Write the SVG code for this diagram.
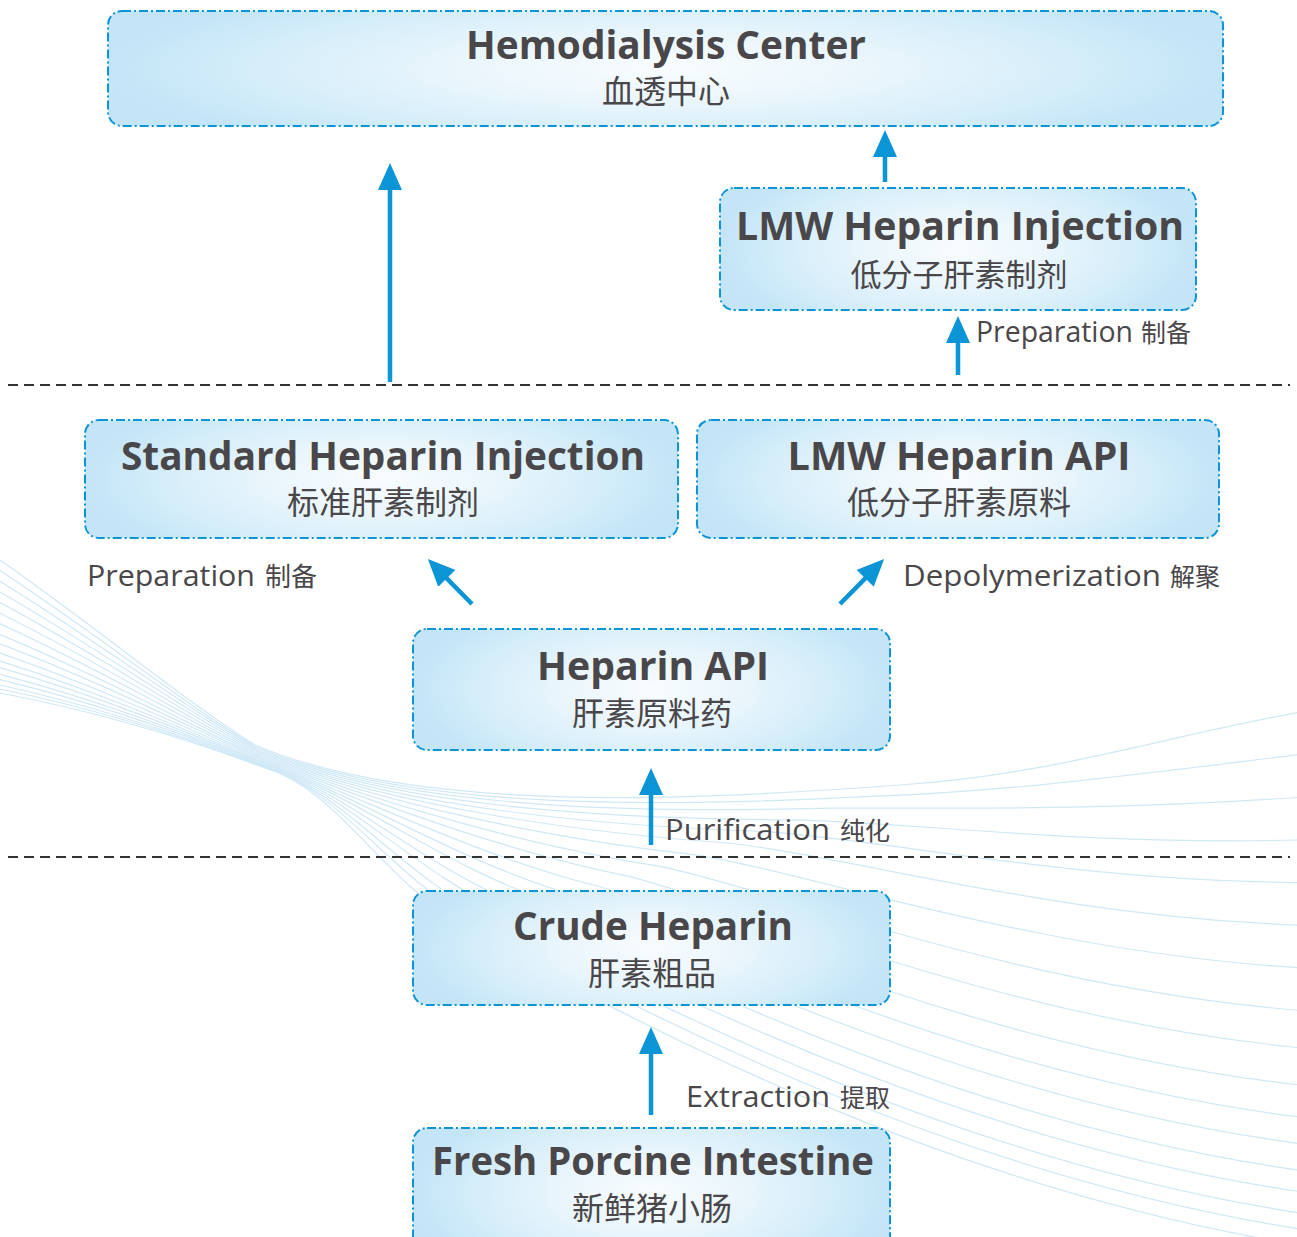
<svg xmlns="http://www.w3.org/2000/svg" width="1297" height="1237" viewBox="0 0 1297 1237">
<defs>
<style>
.box{fill:url(#bg);stroke:#0b95d6;stroke-width:2;stroke-dasharray:9 3 2 3}
.t{font-family:"Open Sans","Noto Sans CJK SC",sans-serif;font-weight:700;font-size:39px;fill:#4a474a;text-anchor:middle}
.c{font-family:"Noto Sans CJK SC",sans-serif;font-size:32px;fill:#4a474a;text-anchor:middle}
.l{font-family:"Open Sans","Noto Sans CJK SC",sans-serif;font-size:29px;fill:#4a474a}
.lc{font-family:"Noto Sans CJK SC",sans-serif;font-size:25px;fill:#4a474a}
.arr{fill:none;stroke:#0b95d6;stroke-width:4.5;marker-end:url(#ah)}
.dash{fill:none;stroke:#333;stroke-width:2;stroke-dasharray:10 6}
.wave{fill:none;stroke:#cfe8f6;stroke-width:1.2}
</style>
<radialGradient id="bg" cx="0.5" cy="0.5" r="0.5" gradientTransform="translate(0.5 0.5) scale(1 1.6) translate(-0.5 -0.5)">
<stop offset="0" stop-color="#f8fcfe"/>
<stop offset="0.35" stop-color="#ebf6fc"/>
<stop offset="0.75" stop-color="#d4edf9"/>
<stop offset="1" stop-color="#c3e5f7"/>
</radialGradient>
<marker id="ah" viewBox="0 0 27 24" refX="12" refY="12" markerWidth="27" markerHeight="24" markerUnits="userSpaceOnUse" orient="auto">
<path d="M0,0 L27,12 L0,24 z" fill="#0b95d6"/>
</marker>
</defs>
<rect width="1297" height="1237" fill="#fff"/>
<g id="background-waves">
<path class="wave" d="M0,560 C100,630 190,705 255,745 C420,815 700,800 900,785 C1050,775 1150,740 1300,712"/>
<path class="wave" d="M0,570.6 C100,636.6 190,707.8 255.8,746.8 C413.6,813 674.4,806.4 865.6,796.6 C1010.8,791.4 1130,775.2 1300,754.6"/>
<path class="wave" d="M0,581.3 C100,643.1 190,710.6 256.6,748.7 C407.2,811 648.8,812.8 831.2,808.2 C971.6,807.8 1110,810.4 1300,797.3"/>
<path class="wave" d="M0,591.9 C100,649.7 190,713.4 257.4,750.5 C400.8,809 623.2,819.2 796.8,819.8 C932.4,824.2 1090,845.6 1300,839.9"/>
<path class="wave" d="M0,602.6 C100,656.2 190,716.2 258.2,752.4 C394.4,807 597.6,825.6 762.4,831.4 C893.2,840.6 1070,880.8 1300,882.6"/>
<path class="wave" d="M0,613.2 C100,662.8 190,719 259,754.2 C388,805 572,832 728,843 C854,857 1050,916 1300,925.2"/>
<path class="wave" d="M0,623.8 C100,669.4 190,721.8 259.8,756 C381.6,803 546.4,838.4 693.6,854.6 C814.8,873.4 1030,951.2 1300,967.8"/>
<path class="wave" d="M0,634.5 C100,675.9 190,724.6 260.6,757.9 C375.2,801 520.8,844.8 659.2,866.2 C775.6,889.8 1010,986.4 1300,1010.5"/>
<path class="wave" d="M0,643.8 C100,681.7 190,727.1 261.3,759.5 C369.6,799.3 498.4,850.4 629.1,876.4 C741.3,904.2 992.5,1017.2 1300,1047.8"/>
<path class="wave" d="M0,653.1 C100,687.4 190,729.5 262,761.1 C364,797.5 476,856 599,886.5 C707,918.5 975,1048 1300,1085.1"/>
<path class="wave" d="M0,661.1 C100,692.3 190,731.6 262.6,762.5 C359.2,796 456.8,860.8 573.2,895.2 C677.6,930.8 960,1074.4 1300,1117.1"/>
<path class="wave" d="M0,667.7 C100,696.4 190,733.4 263.1,763.6 C355.2,794.8 440.8,864.8 551.7,902.5 C653.1,941.1 947.5,1096.4 1300,1143.7"/>
<path class="wave" d="M0,674.4 C100,700.5 190,735.1 263.6,764.8 C351.2,793.5 424.8,868.8 530.2,909.7 C628.6,951.3 935,1118.4 1300,1170.4"/>
<path class="wave" d="M0,679.7 C100,703.8 190,736.5 264,765.7 C348,792.5 412,872 513,915.5 C609,959.5 925,1136 1300,1191.7"/>
<path class="wave" d="M0,685 C100,707.1 190,737.9 264.4,766.6 C344.8,791.5 399.2,875.2 495.8,921.3 C589.4,967.7 915,1153.6 1300,1213"/>
<path class="wave" d="M0,689 C100,709.5 190,739 264.7,767.3 C342.4,790.8 389.6,877.6 482.9,925.7 C574.7,973.9 907.5,1166.8 1300,1229"/>
<path class="wave" d="M0,693 C100,712 190,740 265,768 C340,790 380,880 470,930 C560,980 900,1180 1300,1245"/>
</g>
<g id="separators">
<line class="dash" x1="8" y1="385" x2="1290" y2="385"/>
<line class="dash" x1="8" y1="857" x2="1290" y2="857"/>
</g>
<g id="connectors">
<line class="arr" x1="390" y1="382" x2="390" y2="178"/>
<line class="arr" x1="885" y1="182" x2="885" y2="145"/>
<line class="arr" x1="958" y1="375" x2="958" y2="331"/>
<line class="arr" x1="472" y1="604" x2="438.4" y2="569.8"/>
<line class="arr" x1="840" y1="604" x2="873.6" y2="569.8"/>
<line class="arr" x1="651" y1="845" x2="651" y2="783"/>
<line class="arr" x1="651" y1="1115" x2="651" y2="1042"/>
<text class="l" x="976" y="342" textLength="157" lengthAdjust="spacingAndGlyphs">Preparation</text>
<text class="lc" x="1141" y="342">制备</text>
<text class="l" x="87" y="586" textLength="168" lengthAdjust="spacingAndGlyphs">Preparation</text>
<text class="lc" x="265" y="586" style="font-size:26px">制备</text>
<text class="l" x="903" y="586" textLength="258" lengthAdjust="spacingAndGlyphs">Depolymerization</text>
<text class="lc" x="1170" y="586">解聚</text>
<text class="l" x="665" y="840" textLength="165" lengthAdjust="spacingAndGlyphs">Purification</text>
<text class="lc" x="840" y="840">纯化</text>
<text class="l" x="686" y="1107" textLength="144" lengthAdjust="spacingAndGlyphs">Extraction</text>
<text class="lc" x="840" y="1107">提取</text>
</g>
<g id="hemodialysis-center">
<rect class="box" x="108" y="11" width="1115" height="115" rx="14"/>
<text class="t" x="666" y="59" textLength="400" lengthAdjust="spacingAndGlyphs">Hemodialysis Center</text>
<text class="c" x="666" y="103">血透中心</text>
</g>
<g id="lmw-heparin-injection">
<rect class="box" x="720" y="188" width="476" height="122" rx="14"/>
<text class="t" x="960" y="240" textLength="448" lengthAdjust="spacingAndGlyphs">LMW Heparin Injection</text>
<text class="c" x="959" y="286" style="font-size:31px">低分子肝素制剂</text>
</g>
<g id="standard-heparin-injection">
<rect class="box" x="85" y="420" width="593" height="118" rx="14"/>
<text class="t" x="383" y="470" textLength="524" lengthAdjust="spacingAndGlyphs">Standard Heparin Injection</text>
<text class="c" x="383" y="514">标准肝素制剂</text>
</g>
<g id="lmw-heparin-api">
<rect class="box" x="697" y="420" width="522" height="118" rx="14"/>
<text class="t" x="959" y="470" textLength="343" lengthAdjust="spacingAndGlyphs">LMW Heparin API</text>
<text class="c" x="959" y="514">低分子肝素原料</text>
</g>
<g id="heparin-api">
<rect class="box" x="413" y="629" width="477" height="121" rx="14"/>
<text class="t" x="653" y="680" textLength="232" lengthAdjust="spacingAndGlyphs">Heparin API</text>
<text class="c" x="652" y="725">肝素原料药</text>
</g>
<g id="crude-heparin">
<rect class="box" x="413" y="891" width="477" height="114" rx="14"/>
<text class="t" x="653" y="940" textLength="280" lengthAdjust="spacingAndGlyphs">Crude Heparin</text>
<text class="c" x="652" y="985">肝素粗品</text>
</g>
<g id="fresh-porcine-intestine">
<rect class="box" x="413" y="1128" width="477" height="130" rx="14"/>
<text class="t" x="653" y="1175" textLength="442" lengthAdjust="spacingAndGlyphs">Fresh Porcine Intestine</text>
<text class="c" x="652" y="1220">新鲜猪小肠</text>
</g>
</svg>
